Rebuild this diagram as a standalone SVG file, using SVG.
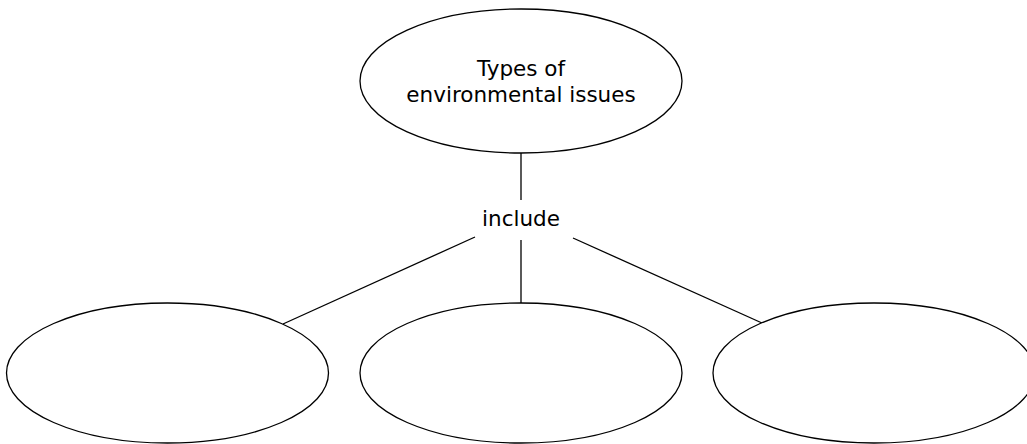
<svg xmlns="http://www.w3.org/2000/svg" width="1027" height="444" viewBox="0 0 1027 444">
<style>
.node{fill:#fff;stroke:#000;stroke-width:1.3}
.conn{stroke:#000;stroke-width:1.3;fill:none}
.lbl{font-family:"DejaVu Sans","Liberation Sans",sans-serif;font-size:21.5px;fill:#000;text-anchor:middle}
</style>
<rect width="1027" height="444" fill="#fff"/>
<g id="connectors">
<line class="conn" x1="521" y1="153" x2="521" y2="200"/>
<line class="conn" x1="521" y1="240" x2="521" y2="303"/>
<line class="conn" x1="475" y1="237" x2="283" y2="324"/>
<line class="conn" x1="573" y1="238" x2="762" y2="323"/>
<text class="lbl" x="521" y="226">include</text>
</g>
<g id="node-top">
<ellipse class="node" cx="521" cy="81" rx="161" ry="72"/>
<text class="lbl" x="521" y="75.5">Types of</text>
<text class="lbl" x="521" y="101.5">environmental issues</text>
</g>
<g id="node-left">
<ellipse class="node" cx="167.5" cy="373" rx="161" ry="70"/>
</g>
<g id="node-middle">
<ellipse class="node" cx="521" cy="373" rx="161" ry="70"/>
</g>
<g id="node-right">
<ellipse class="node" cx="874" cy="373" rx="161" ry="70"/>
</g>
</svg>
